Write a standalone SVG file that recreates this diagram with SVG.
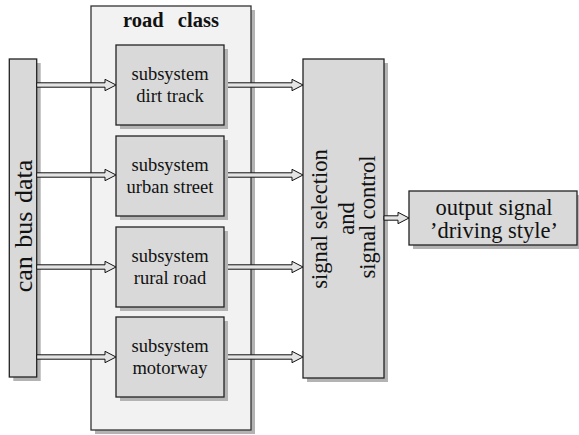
<svg xmlns="http://www.w3.org/2000/svg" width="579" height="435" viewBox="0 0 579 435">
  <style>
    .shadow { fill: #b3b3b3; stroke: none; }
    .box { fill: #d9d9d9; stroke: #222; stroke-width: 1.3; }
    .outer { fill: #f2f2f2; stroke: #333; stroke-width: 1.3; }
    .arrow { fill: #e4e4e4; stroke: #111; stroke-width: 1; stroke-linejoin: miter; }
    text { font-family: "Liberation Serif", "Times New Roman", serif; fill: #111; text-anchor: middle; }
    .sub { font-size: 18.5px; }
    .big { font-size: 22.5px; }
    .bus { font-size: 26px; word-spacing: 2px; }
    .title { font-size: 20.5px; font-weight: bold; word-spacing: 9px; }
  </style>

  <!-- road class container -->
  <g id="road-class">
    <rect class="shadow" x="95" y="10" width="160" height="424" />
    <rect class="outer" x="91" y="6" width="160" height="424" />
    <text class="title" x="171" y="27">road class</text>
  </g>

  <!-- input bus -->
  <g id="can-bus">
    <rect class="shadow" x="13.3" y="63" width="27.4" height="318" />
    <rect class="box" x="9.3" y="59" width="27.4" height="318" />
    <text class="bus" transform="translate(32,226) rotate(-90)">can bus data</text>
  </g>

  <!-- selector -->
  <g id="signal-selection">
    <rect class="shadow" x="307" y="63" width="81" height="319" />
    <rect class="box" x="303" y="59" width="81" height="319" />
    <text class="big" transform="translate(326.5,219) rotate(-90)">signal selection</text>
    <text class="big" transform="translate(354,218.5) rotate(-90)">and</text>
    <text class="big" transform="translate(374.5,217) rotate(-90)">signal control</text>
  </g>

  <!-- result -->
  <g id="output-signal">
    <rect class="shadow" x="413" y="195" width="168" height="54" />
    <rect class="box" x="409" y="191" width="168" height="54" />
    <text class="big" x="494" y="214.5">output signal</text>
    <text class="big" x="494" y="237.5">&#8217;driving style&#8217;</text>
  </g>

  <!-- block arrows -->
  <g id="connectors">
    <polygon class="arrow" points="36.7,82.8 105,82.8 105,79.3 116,85 105,90.7 105,87.2 36.7,87.2" />
    <polygon class="arrow" points="36.7,172.8 105,172.8 105,169.3 116,175 105,180.7 105,177.2 36.7,177.2" />
    <polygon class="arrow" points="36.7,264.8 105,264.8 105,261.3 116,267 105,272.7 105,269.2 36.7,269.2" />
    <polygon class="arrow" points="36.7,354.8 105,354.8 105,351.3 116,357 105,362.7 105,359.2 36.7,359.2" />

    <polygon class="arrow" points="224,82.8 292,82.8 292,79.3 303,85 292,90.7 292,87.2 224,87.2" />
    <polygon class="arrow" points="224,172.8 292,172.8 292,169.3 303,175 292,180.7 292,177.2 224,177.2" />
    <polygon class="arrow" points="224,264.8 292,264.8 292,261.3 303,267 292,272.7 292,269.2 224,269.2" />
    <polygon class="arrow" points="224,354.8 292,354.8 292,351.3 303,357 292,362.7 292,359.2 224,359.2" />

    <polygon class="arrow" points="384,215.8 398,215.8 398,212.3 409,218 398,223.7 398,220.2 384,220.2" />
  </g>

  <!-- road class subsystems -->
  <g id="dirt-track">
    <rect class="shadow" x="120" y="49" width="108" height="80" />
    <rect class="box" x="116" y="45" width="108" height="80" />
    <text class="sub" x="170" y="80">subsystem</text>
    <text class="sub" x="170" y="102">dirt track</text>
  </g>
  <g id="urban-street">
    <rect class="shadow" x="120" y="140" width="108" height="80" />
    <rect class="box" x="116" y="136" width="108" height="80" />
    <text class="sub" x="170" y="171">subsystem</text>
    <text class="sub" x="170" y="193">urban street</text>
  </g>
  <g id="rural-road">
    <rect class="shadow" x="120" y="231" width="108" height="80" />
    <rect class="box" x="116" y="227" width="108" height="80" />
    <text class="sub" x="170" y="262">subsystem</text>
    <text class="sub" x="170" y="284">rural road</text>
  </g>
  <g id="motorway">
    <rect class="shadow" x="120" y="321" width="108" height="80" />
    <rect class="box" x="116" y="317" width="108" height="80" />
    <text class="sub" x="170" y="352">subsystem</text>
    <text class="sub" x="170" y="374">motorway</text>
  </g>
</svg>
